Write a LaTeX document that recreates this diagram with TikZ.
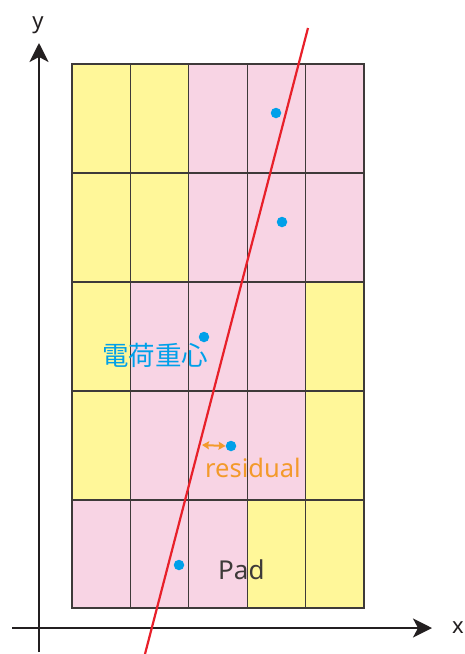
\documentclass[tikz,border=0pt]{standalone}
\usepackage{fontspec}
\setmainfont{Noto Sans}
\newfontfamily\cjk{Noto Sans CJK JP}
\usetikzlibrary{arrows.meta}
\definecolor{padyellow}{HTML}{FFF799}
\definecolor{padpink}{HTML}{F8D4E4}
\definecolor{gridline}{HTML}{3E3A39}
\definecolor{axiscol}{HTML}{231F20}
\definecolor{dotcyan}{HTML}{00A0E9}
\definecolor{fitred}{HTML}{E8202A}
\definecolor{resorange}{HTML}{F39A2B}
\definecolor{padtext}{HTML}{3E3A39}
\begin{document}
\begin{tikzpicture}[x=1pt,y=-1pt,
  cell/.style={draw=gridline,line width=1.1pt},
  ycell/.style={cell,fill=padyellow},
  pcell/.style={cell,fill=padpink},
  axisline/.style={draw=axiscol,line width=2pt,-{Stealth[length=19pt,width=19pt,inset=5pt]}},
  centroid/.style={circle,fill=dotcyan,inner sep=0pt,minimum size=10.5pt},
  lbl/.style={inner sep=0pt,font=\fontsize{22}{24}\selectfont,text=axiscol}
]
\useasboundingbox (0,0) rectangle (465,654);
% grid cells
\def\xa{72}\def\xb{130.4}\def\xc{188.8}\def\xd{247.2}\def\xe{305.6}\def\xf{364}
% row 1
\path[ycell] (\xa,64) rectangle (\xb,173);
\path[ycell] (\xb,64) rectangle (\xc,173);
\path[pcell] (\xc,64) rectangle (\xd,173);
\path[pcell] (\xd,64) rectangle (\xe,173);
\path[pcell] (\xe,64) rectangle (\xf,173);
% row 2
\path[ycell] (\xa,173) rectangle (\xb,282);
\path[ycell] (\xb,173) rectangle (\xc,282);
\path[pcell] (\xc,173) rectangle (\xd,282);
\path[pcell] (\xd,173) rectangle (\xe,282);
\path[pcell] (\xe,173) rectangle (\xf,282);
% row 3
\path[ycell] (\xa,282) rectangle (\xb,391);
\path[pcell] (\xb,282) rectangle (\xc,391);
\path[pcell] (\xc,282) rectangle (\xd,391);
\path[pcell] (\xd,282) rectangle (\xe,391);
\path[ycell] (\xe,282) rectangle (\xf,391);
% row 4
\path[ycell] (\xa,391) rectangle (\xb,500);
\path[pcell] (\xb,391) rectangle (\xc,500);
\path[pcell] (\xc,391) rectangle (\xd,500);
\path[pcell] (\xd,391) rectangle (\xe,500);
\path[ycell] (\xe,391) rectangle (\xf,500);
% row 5
\path[pcell] (\xa,500) rectangle (\xb,608);
\path[pcell] (\xb,500) rectangle (\xc,608);
\path[pcell] (\xc,500) rectangle (\xd,608);
\path[ycell] (\xd,500) rectangle (\xe,608);
\path[ycell] (\xe,500) rectangle (\xf,608);
% axes
\coordinate (ystart) at (39,652);
\coordinate (yend) at (39,43);
\coordinate (xstart) at (12,628);
\coordinate (xend) at (432,628);
\draw[axisline] (ystart) -- (yend);
\draw[axisline] (xstart) -- (xend);
\node[lbl,anchor=base] (ylabel) at (38,28) {y};
\node[lbl,anchor=base] (xlabel) at (458,633) {x};
% fit line
\coordinate (fittop) at (308,28);
\coordinate (fitbot) at (145,654);
\draw[fitred,line width=2.2pt] (fittop) -- (fitbot);
% centroids
\node[centroid] (c1) at (276,113) {};
\node[centroid] (c2) at (282,222) {};
\node[centroid] (c3) at (204,337) {};
\node[centroid] (c4) at (231,446) {};
\node[centroid] (c5) at (179,565) {};
% residual arrow
\coordinate (resl) at (202,445);
\draw[resorange,line width=2pt,{Stealth[length=7pt,width=8pt,inset=1pt]}-{Stealth[length=7pt,width=8pt,inset=1pt]}] (resl) -- (c4.west);
% labels
\node[inner sep=0pt,anchor=base west,text=resorange,font=\fontsize{25.5}{28}\selectfont] (resid) at (205,477) {residual};
\node[inner sep=0pt,anchor=west,text=dotcyan,font=\cjk\fontsize{26.5}{28}\selectfont] (cog) at (102,355) {電荷重心};
\node[inner sep=0pt,anchor=base west,text=padtext,font=\fontsize{26}{28}\selectfont] (pad) at (218,579) {Pad};
\end{tikzpicture}
\end{document}
